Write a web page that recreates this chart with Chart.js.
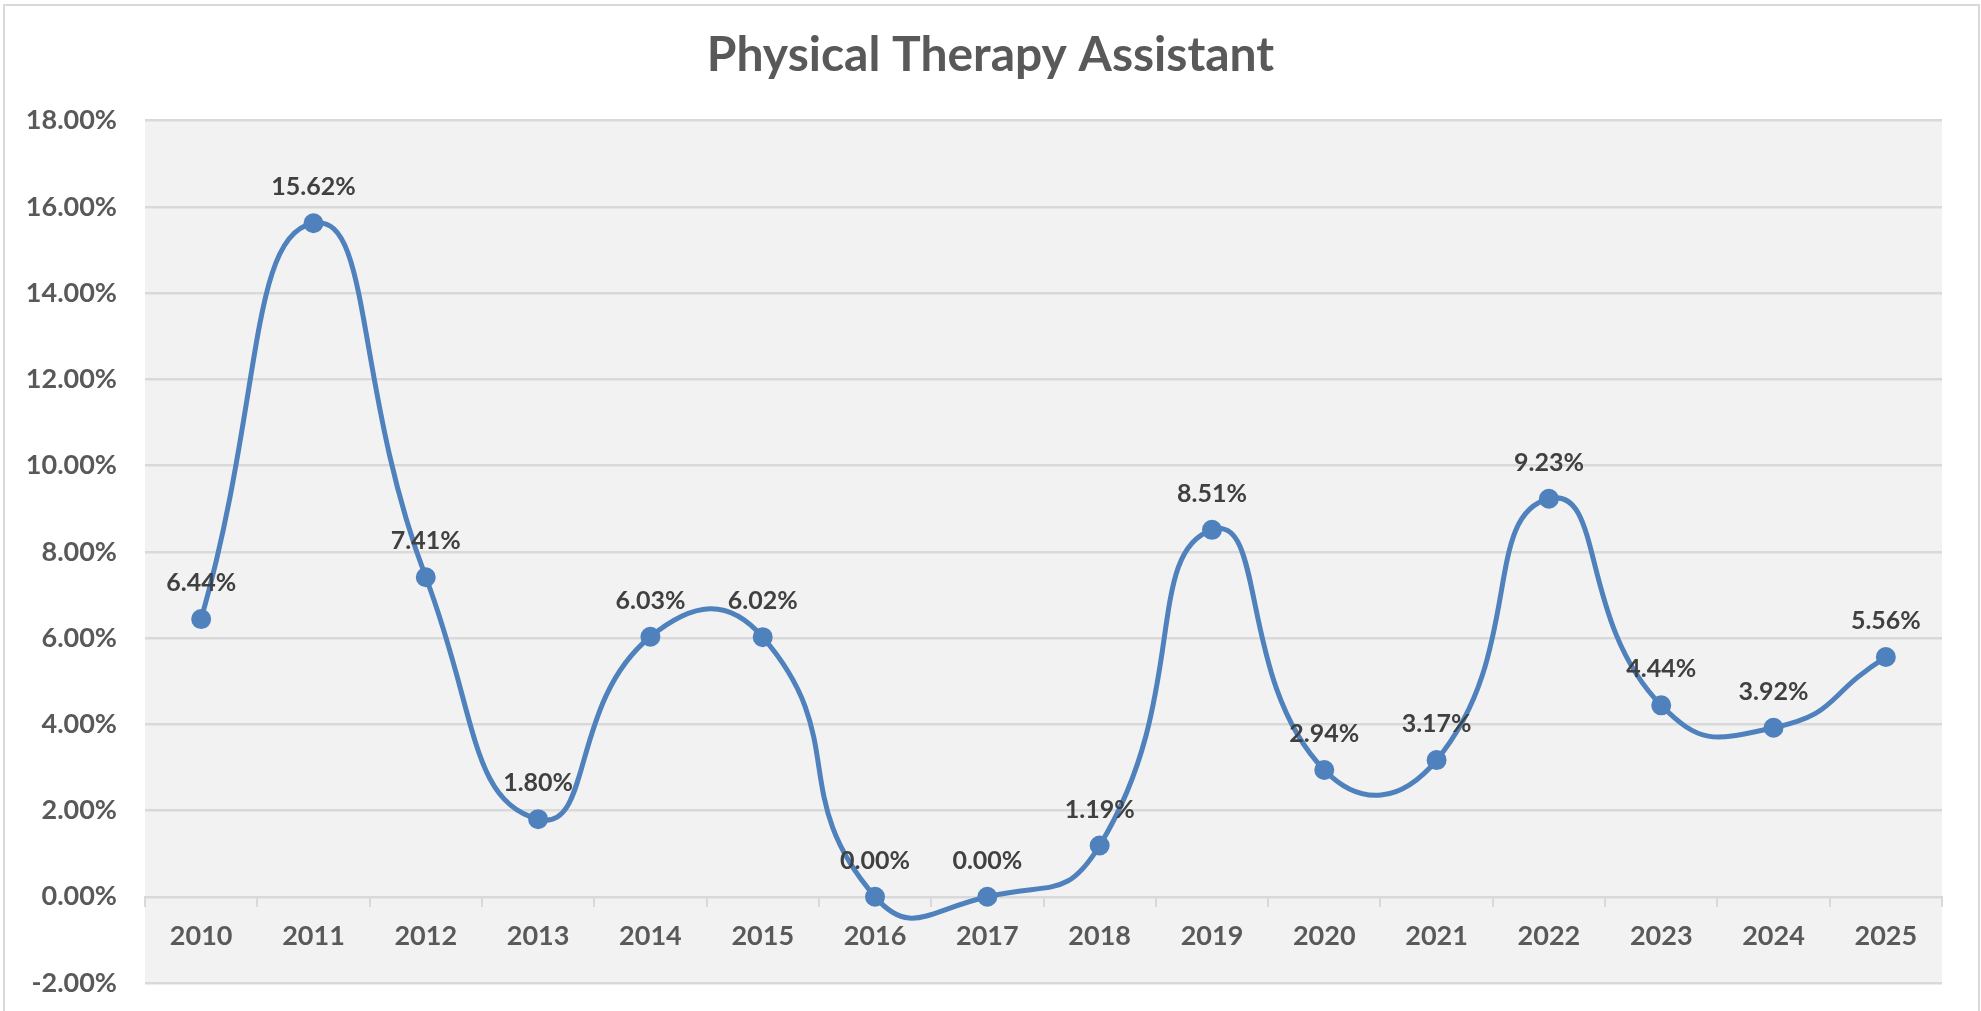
<!DOCTYPE html>
<html>
<head>
<meta charset="utf-8">
<title>Physical Therapy Assistant</title>
<script src="https://cdn.jsdelivr.net/npm/chart.js@4.4.1/dist/chart.umd.min.js"></script>
<style>
  html, body { margin: 0; padding: 0; background: #fff; }
  #wrap { width: 1981px; height: 1011px; position: relative; }
</style>
</head>
<body>
<div id="wrap"><canvas id="chart"></canvas></div>
<script>
/* Physical Therapy Assistant — yearly rate, smoothed line */
const years = ["2010", "2011", "2012", "2013", "2014", "2015", "2016", "2017",
  "2018", "2019", "2020", "2021", "2022", "2023", "2024", "2025"];
const rates = [6.44, 15.62, 7.41, 1.80, 6.03, 6.02, 0.00, 0.00,
  1.19, 8.51, 2.94, 3.17, 9.23, 4.44, 3.92, 5.56];
const yTicks = [-2, 0, 2, 4, 6, 8, 10, 12, 14, 16, 18];

const FONT = "Lato, 'Open Sans', 'Noto Sans', sans-serif";
const pct = (v) => v.toFixed(2) + "%";

/* frame + grey plot background */
const backdrop = {
  id: "backdrop",
  beforeDraw(chart) {
    const { ctx, chartArea: a } = chart;
    ctx.save();
    ctx.fillStyle = "#f2f2f2";
    ctx.fillRect(a.left, a.top, a.right - a.left, a.bottom - a.top);
    ctx.strokeStyle = "#d9d9d9";
    ctx.lineWidth = 2;
    ctx.strokeRect(4, 5, 1975, 1020);
    ctx.restore();
  },
};

/* value labels above each point */
const valueLabels = {
  id: "valueLabels",
  afterDatasetsDraw(chart) {
    const { ctx } = chart;
    const meta = chart.getDatasetMeta(0);
    ctx.save();
    ctx.font = "bold 25px " + FONT;
    ctx.fillStyle = "#404040";
    ctx.textAlign = "center";
    ctx.textBaseline = "middle";
    meta.data.forEach((pt, i) => ctx.fillText(pct(rates[i]), pt.x, pt.y - 36));
    ctx.restore();
  },
};

new Chart(document.getElementById("chart"), {
  type: "line",
  data: {
    labels: years,
    datasets: [{
      data: rates,
      borderColor: "#4f81bd",
      backgroundColor: "#4f81bd",
      borderWidth: 5,
      tension: 0.55,
      pointRadius: 7.5,
      pointHoverRadius: 7.5,
      fill: false,
    }],
  },
  options: {
    responsive: true,
    maintainAspectRatio: false,
    animation: false,
    layout: { padding: { left: 0, right: 0, top: 0, bottom: 28 } },
    plugins: {
      legend: { display: false },
      tooltip: { enabled: false },
      title: {
        display: true,
        text: "Physical Therapy Assistant",
        color: "#595959",
        font: { family: FONT, size: 48, weight: "bold" },
        padding: { top: 27, bottom: 36 },
      },
    },
    scales: {
      x: {
        type: "category",
        position: { y: 0 },
        offset: true,
        grid: { display: true, offset: true, drawOnChartArea: false, drawTicks: true,
          tickLength: 9, color: "#d9d9d9", lineWidth: 2 },
        border: { display: true, color: "#d9d9d9", width: 2 },
        ticks: { color: "#595959", padding: 14, maxRotation: 0,
          font: { family: FONT, size: 27, weight: "bold" } },
      },
      y: {
        min: -2,
        max: 18,
        afterFit: (s) => { s.width = 145; },
        afterBuildTicks: (s) => { s.ticks = yTicks.map((v) => ({ value: v })); },
        grid: { color: "#d9d9d9", lineWidth: 2.5, drawTicks: true, tickLength: 28,
          tickColor: "rgba(0,0,0,0)" },
        border: { display: false },
        ticks: { color: "#595959", padding: 0, callback: (v) => pct(v),
          font: { family: FONT, size: 27, weight: "bold" } },
      },
      // empty right-hand spacer so the plot stops short of the frame
      spacer: {
        type: "linear",
        position: "right",
        afterFit: (s) => { s.width = 39; },
        grid: { display: false, drawOnChartArea: false, drawTicks: false },
        border: { display: false },
        ticks: { display: false },
      },
    },
  },
  plugins: [backdrop, valueLabels],
});
</script>
</body>
</html>
